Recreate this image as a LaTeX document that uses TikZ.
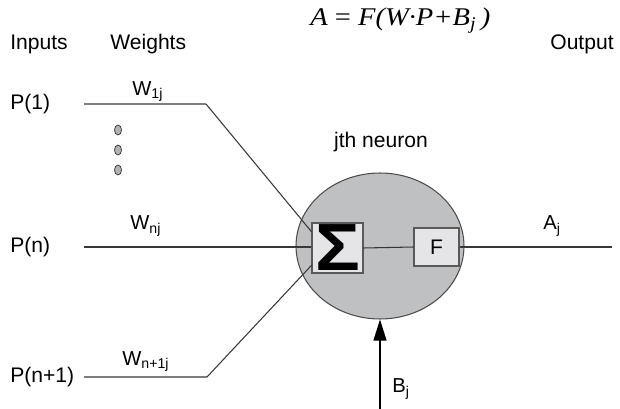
\documentclass[tikz,border=0pt]{standalone}
\usepackage{fontspec}
\setmainfont{Liberation Sans}
\newfontfamily\timesfont[FakeStretch=1.12]{Liberation Serif}
\usetikzlibrary{shapes.geometric,arrows.meta,calc}
\definecolor{cellgray}{RGB}{191,192,194}
\definecolor{boxgray}{RGB}{229,229,231}
\definecolor{linegray}{RGB}{55,55,55}

\begin{document}
\begin{tikzpicture}[x=0.02cm,y=-0.02cm,
  lbl/.style={inner sep=0pt,font=\fontsize{12}{14}\selectfont},
  wlbl/.style={inner sep=0pt,anchor=base west,font=\fontsize{11.5}{13}\selectfont},
  wire/.style={draw=linegray,line width=0.6pt},
  unit/.style={draw=gray!70!black,fill=boxgray,line width=0.6pt,inner sep=0pt}]
  \useasboundingbox (0,0) rectangle (620,409);

  % Formula
  \node[anchor=base west,inner sep=0pt,font=\timesfont\fontsize{14.5}{16}\selectfont] (formula) at (310,26)
    {{\itshape A} = {\itshape F(W·P+B\textsubscript{j}\,)}};

  % Headings
  \node[lbl,anchor=base west] (inputs) at (10,50) {Inputs};
  \node[lbl,anchor=base west] (weights) at (110,50) {Weights};
  \node[lbl,anchor=base west] (output) at (550,50) {Output};

  % Neuron body
  \node[ellipse,draw=gray!60!black,fill=cellgray,minimum width=3.36cm,minimum height=2.92cm,line width=0.6pt] (neuron) at (380,246) {};
  \node[lbl,anchor=base] (neuronlbl) at (381,148) {jth neuron};

  % Summation and transfer boxes
  \node[unit,minimum width=1.02cm,minimum height=1cm] (sigma) at (337.5,248)
    {\scalebox{1.12}[1]{\bfseries\fontsize{38}{38}\selectfont Σ}};
  \node[unit,minimum width=0.9cm,minimum height=0.76cm,font=\fontsize{12}{14}\selectfont] (f) at (436.5,247) {F};

  % Inputs
  \node[lbl,anchor=west] (p1) at (10,104) {P(1)};
  \node[lbl,anchor=west] (pn) at (10,247) {P(n)};
  \node[lbl,anchor=west] (pn1) at (10,377) {P(n+1)};
  \coordinate (s1) at (84,104);
  \coordinate (sn) at (84,247);
  \coordinate (sn1) at (84,377);
  \coordinate (k1) at (206,104);
  \coordinate (kn1) at (207,377);

  \foreach \y in {130,150,170}
    \draw[fill=gray!60,draw=gray!40!black,line width=0.4pt] (118,\y) ellipse (3.5 and 5);

  % Wires into the neuron
  \draw[wire,draw=gray] (s1) -- (k1);
  \draw[wire] (k1) -- ($(sigma.north west)!0.18!(sigma.south west)$);
  \draw[wire] (sn) -- (sn -| sigma.west);
  \draw[wire] (sn1) -- (kn1) -- ($(sigma.north west)!0.84!(sigma.south west)$);
  \draw[wire] (sigma.east) -- (f.west);

  % Weights
  \node[wlbl] (w1) at (132,95) {W\textsubscript{1j}};
  \node[wlbl] (wn) at (130,230) {W\textsubscript{nj}};
  \node[wlbl] (wn1) at (122,365) {W\textsubscript{n+1j}};

  % Output
  \coordinate (out) at (612,247);
  \draw[wire] (f.east) -- (out);
  \node[wlbl] (aj) at (543,230) {A\textsubscript{j}};

  % Bias
  \coordinate (bias) at (380,409);
  \draw[wire,draw=black,-{Triangle[length=0.42cm,width=0.26cm]}] (bias) -- (neuron.south);
  \node[wlbl] (bj) at (392,393) {B\textsubscript{j}};
\end{tikzpicture}
\end{document}
